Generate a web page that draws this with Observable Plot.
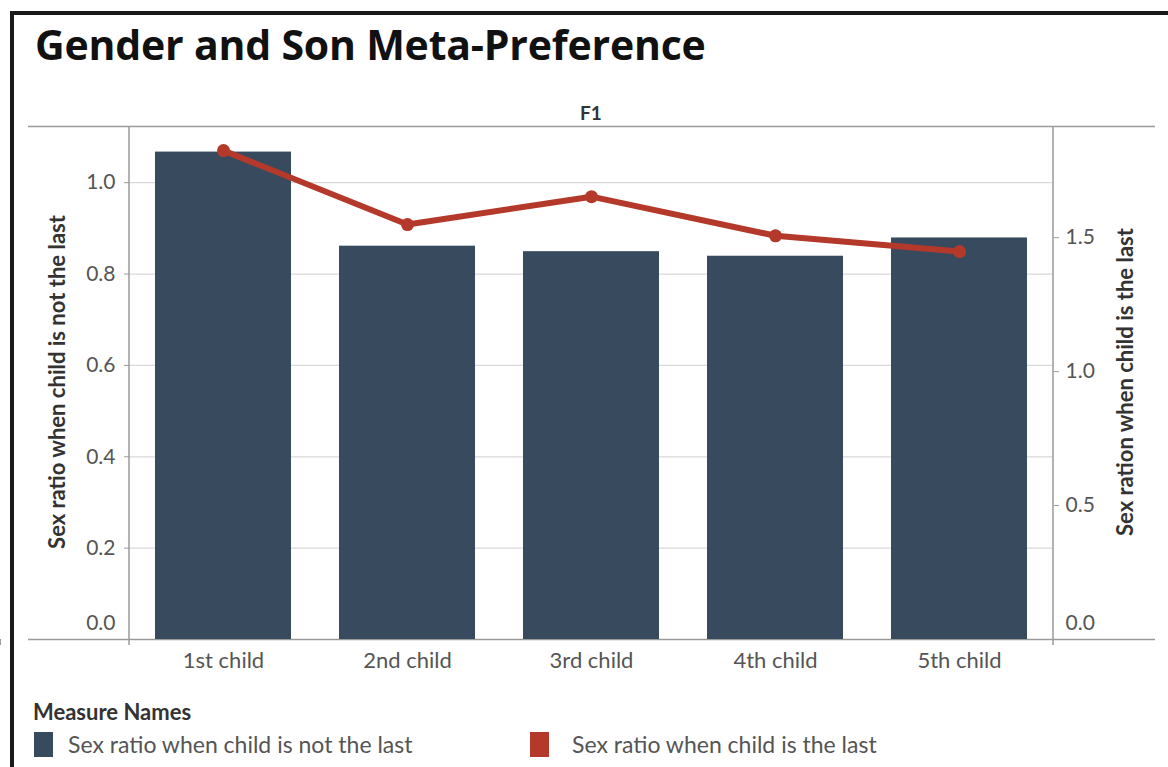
<!DOCTYPE html>
<html>
<head>
<meta charset="utf-8">
<script src="https://cdn.jsdelivr.net/npm/d3@7"></script>
<script src="https://cdn.jsdelivr.net/npm/@observablehq/plot@0.6"></script>
<style>
  html, body { margin: 0; padding: 0; background: #fff; }
  #wrap { position: relative; width: 1168px; height: 767px; overflow: hidden; font-family: Lato, "Open Sans", sans-serif; }
  #frame { position: absolute; left: 10px; top: 11px; right: -10px; bottom: -10px; border-left: 4px solid #1a1a1a; border-top: 4px solid #1a1a1a; }
  #chart { position: absolute; left: 0; top: 0; }
  .abs { position: absolute; white-space: nowrap; }
  #title { left: 35px; top: 24px; font-family: "Open Sans", Lato, sans-serif; font-size: 41px; font-weight: 700; color: #111; line-height: 1; letter-spacing: -0.2px; }
  #f1 { left: 591px; top: 103px; transform: translateX(-50%); font-size: 19px; font-weight: 700; color: #333; line-height: 1; }
  .ytitle { font-size: 22px; font-weight: 700; color: #333; line-height: 1; transform-origin: center center; }
  #ytl { left: 57px; top: 382px; transform: translate(-50%, -50%) rotate(-90deg); }
  #ytr { left: 1125px; top: 382px; transform: translate(-50%, -50%) rotate(-90deg); }
  #legtitle { left: 33px; top: 701px; font-size: 22px; font-weight: 700; color: #333; line-height: 1; }
  .sw { position: absolute; width: 19px; height: 25px; }
  .lt { font-size: 23px; color: #555; line-height: 1; }
</style>
</head>
<body>
<div id="wrap">
  <div id="frame"></div>
  <div id="chart"></div>
  <div id="title" class="abs"></div>
  <div id="f1" class="abs"></div>
  <div id="ytl" class="abs ytitle"></div>
  <div id="ytr" class="abs ytitle"></div>
  <div id="legtitle" class="abs"></div>
  <div id="legend"></div>
</div>
<script>
// ---- data ----
const titleText = "Gender and Son Meta-Preference";
const headerText = "F1";
const categories = ["1st child", "2nd child", "3rd child", "4th child", "5th child"];
const notLast = [1.067, 0.861, 0.849, 0.839, 0.879];
const isLast = [1.825, 1.549, 1.653, 1.507, 1.448];
const leftTicks = [0.0, 0.2, 0.4, 0.6, 0.8, 1.0];
const rightTicks = [0.0, 0.5, 1.0, 1.5];
const leftDomain = [0, 1.123];
const rightDomain = [0, 1.915];
const leftTitle = "Sex ratio when child is not the last";
const rightTitle = "Sex ration when child is the last";
const legendTitle = "Measure Names";
const seriesNames = ["Sex ratio when child is not the last", "Sex ratio when child is the last"];
const seriesColors = ["#374a5e", "#b5392a"];

// ---- build ----
const k = leftDomain[1] / rightDomain[1];
const rows = categories.map((c, i) => ({child: c, notLast: notLast[i], isLast: isLast[i]}));
const W = 1168, H = 767;
const mL = 129, mR = 115, mT = 126, mB = 128;
const ruleLeft = 28, ruleRight = 1155;
const labelColor = "#555";
const axisColor = "#9a9a9a";
const font = "Lato, 'Open Sans', sans-serif";

function frameLines(index, scales, values, dims) {
  const g = d3.create("svg:g");
  const x0 = dims.marginLeft, x1 = dims.width - dims.marginRight;
  const y0 = dims.marginTop, yb = scales.y(0);
  [x0, x1].forEach(x => g.append("line").attr("x1", x).attr("x2", x).attr("y1", y0).attr("y2", yb + 6)
    .attr("stroke", axisColor).attr("stroke-width", 1.5));
  const gap = scales.x(categories[1]) - scales.x(categories[0]) - scales.x.bandwidth;
  categories.slice(1).forEach(c => {
    const x = scales.x(c) - gap / 2;
    g.append("line").attr("x1", x).attr("x2", x).attr("y1", yb).attr("y2", yb + 6)
      .attr("stroke", axisColor).attr("stroke-width", 1.2);
  });
  return g.node();
}

const chart = Plot.plot({
  width: W, height: H,
  marginLeft: mL, marginRight: mR, marginTop: mT, marginBottom: mB,
  style: {fontFamily: font, background: "transparent", overflow: "visible"},
  x: {domain: categories, paddingInner: 0.26, paddingOuter: 0.13, axis: null},
  y: {domain: leftDomain, axis: null},
  marks: [
    Plot.ruleY(leftTicks.filter(d => d > 0), {stroke: "#d9d9d9", strokeWidth: 1.2}),
    Plot.ruleY([leftDomain[1], 0], {stroke: axisColor, strokeWidth: 1.5, insetLeft: -(mL - ruleLeft), insetRight: -(ruleRight - (W - mR))}),
    frameLines,
    Plot.barY(rows, {x: "child", y: "notLast", fill: seriesColors[0]}),
    Plot.line(rows, {x: "child", y: d => d.isLast * k, stroke: seriesColors[1], strokeWidth: 6, strokeLinejoin: "round", strokeLinecap: "round"}),
    Plot.dot(rows, {x: "child", y: d => d.isLast * k, r: 6.5, fill: seriesColors[1]}),
    // left axis
    Plot.axisY(leftTicks.filter(d => d > 0), {anchor: "left", label: null, tickSize: 5, tickPadding: 9, tickFormat: d3.format(".1f"), fontSize: 21, color: labelColor, stroke: axisColor}),
    Plot.axisY([0], {anchor: "left", label: null, tickSize: 0, tickPadding: 14, dy: -16, tickFormat: d3.format(".1f"), fontSize: 21, color: labelColor}),
    // right axis
    Plot.axisY(rightTicks.filter(d => d > 0).map(v => v * k), {anchor: "right", label: null, tickSize: 5, tickPadding: 7, tickFormat: d => d3.format(".1f")(d / k), fontSize: 21, color: labelColor, stroke: axisColor}),
    Plot.axisY([0], {anchor: "right", label: null, tickSize: 0, tickPadding: 12, dy: -16, tickFormat: d3.format(".1f"), fontSize: 21, color: labelColor}),
    // x axis
    Plot.axisX({anchor: "bottom", label: null, tickSize: 0, tickPadding: 13, fontSize: 22, color: labelColor})
  ]
});
document.getElementById("chart").appendChild(chart);

document.getElementById("title").textContent = titleText;
document.getElementById("f1").textContent = headerText;
document.getElementById("ytl").textContent = leftTitle;
document.getElementById("ytr").textContent = rightTitle;
document.getElementById("legtitle").textContent = legendTitle;

const legend = document.getElementById("legend");
const legPos = [{sx: 34, tx: 68}, {sx: 530, tx: 572}];
seriesNames.forEach((name, i) => {
  const sw = document.createElement("div");
  sw.className = "sw";
  sw.style.left = legPos[i].sx + "px";
  sw.style.top = "732px";
  sw.style.background = seriesColors[i];
  legend.appendChild(sw);
  const t = document.createElement("div");
  t.className = "abs lt";
  t.style.left = legPos[i].tx + "px";
  t.style.top = "733px";
  t.textContent = name;
  legend.appendChild(t);
});
</script>
</body>
</html>
